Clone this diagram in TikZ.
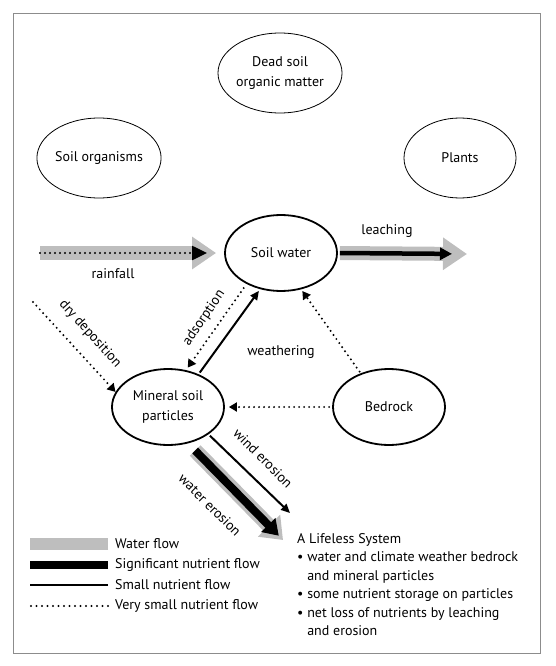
\documentclass[tikz,border=0pt]{standalone}
\usepackage{fontspec}
\setmainfont{PT Sans}
\usetikzlibrary{arrows.meta,positioning,shapes.geometric}
\definecolor{waterflow}{HTML}{BEBEBE}
\definecolor{framegray}{HTML}{8C8C8C}

\begin{document}
\begin{tikzpicture}[x=1pt,y=-1pt,
  font=\fontsize{14}{19.5}\selectfont,
  pool/.style={ellipse,draw,line width=0.8pt,minimum width=112pt,minimum height=80pt,inner sep=0pt,align=center},
  mainpool/.style={pool,line width=1.8pt,minimum height=76pt},
  water/.style={waterflow,line width=14pt,-{Triangle[width=31pt,length=24pt]}},
  sig/.style={line width=8pt,-{Triangle[width=19pt,length=15pt]}},
  small/.style={line width=2pt,-{Triangle[width=8pt,length=9pt]}},
  tiny/.style={line width=2.2pt,line cap=round,dash pattern=on 0pt off 5pt,-{Triangle[width=9pt,length=8pt]}},
  legtext/.style={anchor=west,inner sep=0pt},
]
  \useasboundingbox (0,0) rectangle (556,666);
  \draw[framegray,line width=1pt] (13,14) rectangle (540,653);

  \node[pool] (dead) at (280,73) {Dead soil\\organic matter};
  \node[pool] (orgs) at (99,158) {Soil organisms};
  \node[pool] (plants) at (460,158) {Plants};
  \node[mainpool] (sw) at (281,253) {Soil water};
  \node[mainpool] (mp) at (168,407) {Mineral soil\\particles};
  \node[mainpool] (br) at (389,407) {Bedrock};

  \coordinate (rainS) at (40,253);
  \coordinate (leachE) at (467,254);
  \coordinate (dryS) at (33,302);
  \coordinate (windE) at (290,513);
  \coordinate (waterE) at (283,540);

  \draw[water,shorten >=8pt] (rainS) -- (sw.west);
  \draw[tiny,-{Triangle[width=14pt,length=15pt]},shorten >=17pt] (rainS) -- (sw.west);
  \node at (113,274) {rainfall};

  \draw[water,shorten <=2pt] (sw.east) -- (leachE);
  \draw[line width=4.5pt,-{Triangle[width=12pt,length=12pt]},shorten <=2pt,shorten >=15pt] (sw.east) -- (leachE);
  \node at (387,231) {leaching};

  \draw[tiny] (dryS) -- (mp.164);
  \node[rotate=-48] at (90,334) {dry deposition};

  \draw[tiny,shorten <=5pt,shorten >=3pt] (sw.222) -- (mp.64);
  \draw[small,shorten <=2pt,shorten >=2pt] (mp.47) -- (sw.240);
  \node[rotate=56] at (204,318) {adsorption};
  \node at (281,352) {weathering};
  \draw[tiny,shorten <=2pt,shorten >=2pt] (br.130) -- (sw.299);
  \draw[tiny,shorten <=3pt,shorten >=4pt] (br.west) -- (mp.east);

  \draw[small,shorten <=2pt] (mp.326) -- (windE);
  \node[rotate=-45] at (263,458) {wind erosion};
  \draw[water,line width=15pt,-{Triangle[width=30pt,length=20pt]},shorten <=10pt] (mp.299) -- (waterE);
  \draw[sig,shorten <=10pt,shorten >=6pt] (mp.299) -- (waterE);
  \node[rotate=-45] at (210,505) {water erosion};

  \node[legtext] (lgWater) at (115,544) {Water flow};
  \node[legtext] (lgSig) at (115,565) {Significant nutrient flow};
  \node[legtext] (lgSmall) at (115,585) {Small nutrient flow};
  \node[legtext] (lgTiny) at (115,606) {Very small nutrient flow};
  \draw[waterflow,line width=12pt] ([xshift=-7pt]lgWater.west) -- ++(-78,0);
  \draw[line width=8pt] ([xshift=-7pt]lgSig.west) -- ++(-78,0);
  \draw[line width=2.5pt] ([xshift=-7pt]lgSmall.west) -- ++(-78,0);
  \draw[line width=2.2pt,line cap=round,dash pattern=on 0pt off 5.5pt] ([xshift=-7pt]lgTiny.west) -- ++(-78,0);

  \node[anchor=north west,inner sep=0pt,align=left,font=\fontsize{14}{18.5}\selectfont] (lifeless) at (297,533)
    {A Lifeless System\\
     \textbullet\ water and climate weather bedrock\\
     \hphantom{\textbullet\ }and mineral particles\\
     \textbullet\ some nutrient storage on particles\\
     \textbullet\ net loss of nutrients by leaching\\
     \hphantom{\textbullet\ }and erosion};
\end{tikzpicture}
\end{document}
